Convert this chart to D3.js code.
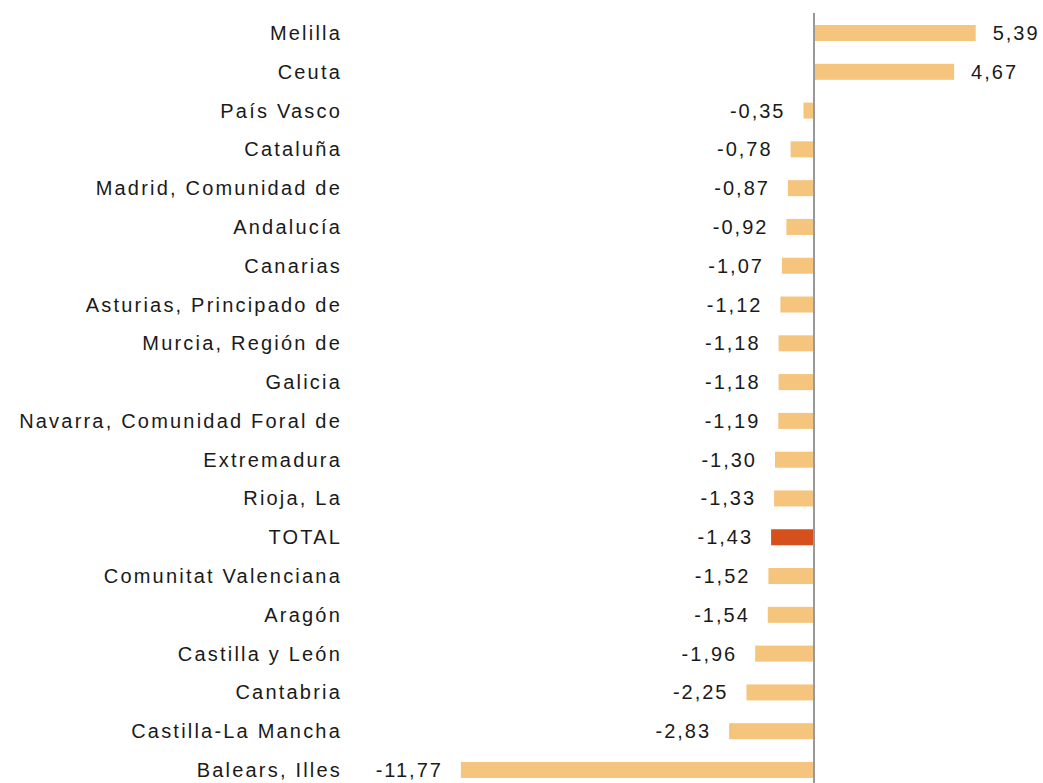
<!DOCTYPE html>
<html>
<head>
<meta charset="utf-8">
<script src="https://cdn.jsdelivr.net/npm/d3@7"></script>
<style>
  body { margin: 0; background: #fff; }
  svg { display: block; }
  text { font-family: "Liberation Sans", Arial, sans-serif; fill: #1a1a1a; }
</style>
</head>
<body>
<div id="chart"></div>
<script>
// regions ordered as in the chart, top to bottom
const regions = [
  'Melilla', 'Ceuta', 'País Vasco', 'Cataluña', 'Madrid, Comunidad de',
  'Andalucía', 'Canarias', 'Asturias, Principado de', 'Murcia, Región de',
  'Galicia', 'Navarra, Comunidad Foral de', 'Extremadura', 'Rioja, La',
  'TOTAL', 'Comunitat Valenciana', 'Aragón', 'Castilla y León',
  'Cantabria', 'Castilla-La Mancha', 'Balears, Illes'
];
const values = [
  5.39, 4.67, -0.35, -0.78, -0.87, -0.92, -1.07, -1.12, -1.18, -1.18,
  -1.19, -1.30, -1.33, -1.43, -1.52, -1.54, -1.96, -2.25, -2.83, -11.77
];
const highlight = ['TOTAL'];

const width = 1043, height = 783;
const data = regions.map((r, i) => ({ name: r, value: values[i] }));

const svg = d3.select('#chart').append('svg')
  .attr('width', width)
  .attr('height', height);

const x = d3.scaleLinear().domain([-12, 6]).range([454, 994]);
const y = d3.scalePoint().domain(regions).range([33, 770]);
const barH = 16;
// comma decimals, plain hyphen for the minus
const fmt = v => d3.format('.2f')(v).replace('.', ',').replace('\u2212', '-');

// bars
svg.selectAll('rect.bar')
  .data(data)
  .enter().append('rect')
  .attr('class', 'bar')
  .attr('x', d => x(Math.min(0, d.value)))
  .attr('y', d => y(d.name) - barH / 2)
  .attr('width', d => Math.abs(x(d.value) - x(0)))
  .attr('height', barH)
  .attr('fill', d => highlight.includes(d.name) ? '#d6501b' : '#f5c47d');

// zero line
svg.append('line')
  .attr('x1', x(0)).attr('x2', x(0))
  .attr('y1', 13).attr('y2', height)
  .attr('stroke', '#999')
  .attr('stroke-width', 2);

// category labels
svg.selectAll('text.cat')
  .data(data)
  .enter().append('text')
  .attr('class', 'cat')
  .attr('x', 342)
  .attr('y', d => y(d.name) + 7)
  .attr('text-anchor', 'end')
  .style('font-size', '20px')
  .style('letter-spacing', '2.2px')
  .text(d => d.name);

// value labels
svg.selectAll('text.val')
  .data(data)
  .enter().append('text')
  .attr('class', 'val')
  .attr('x', d => d.value >= 0 ? x(d.value) + 17 : x(d.value) - 18)
  .attr('y', d => y(d.name) + 7)
  .attr('text-anchor', d => d.value >= 0 ? 'start' : 'end')
  .style('font-size', '20px')
  .style('letter-spacing', '2px')
  .text(d => fmt(d.value));
</script>
</body>
</html>
